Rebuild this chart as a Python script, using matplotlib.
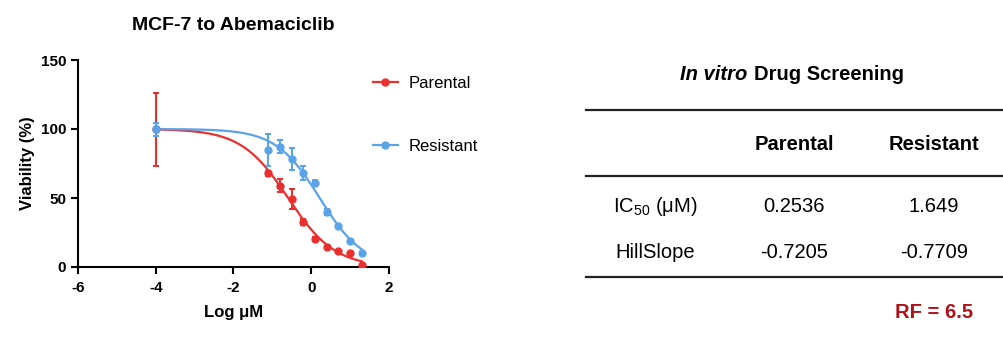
import numpy as np
import matplotlib
matplotlib.use('Agg')
import matplotlib.pyplot as plt
from matplotlib.lines import Line2D

plt.rcParams['font.family'] = ['Liberation Sans', 'DejaVu Sans']
plt.rcParams['mathtext.fontset'] = 'custom'
plt.rcParams['mathtext.rm'] = 'Liberation Sans'
plt.rcParams['axes.unicode_minus'] = False

# log10 dose (uM)
log_dose = [-4, -1.1, -0.8, -0.5, -0.2, 0.1, 0.4, 0.7, 1.0, 1.3]

parental_mean = [99.7, 67.8, 59.0, 49.1, 32.7, 20.5, 14.2, 11.6, 10.4, 1.2]
parental_sd = [26.5, 2.0, 4.6, 7.3, 2.0, 1.0, 1.0, 0.8, 0.8, 0.5]

resistant_mean = [99.7, 84.8, 87.2, 78.0, 68.0, 61.0, 40.0, 29.5, 18.9, 10.4]
resistant_sd = [4.8, 11.5, 4.5, 8.0, 5.0, 2.0, 2.0, 1.0, 1.0, 0.8]

# fitted parameters (table)
groups = ['Parental', 'Resistant']
ic50 = [0.2536, 1.649]
hill = [-0.7205, -0.7709]
row_labels = ['IC$_{50}$ (μM)', 'HillSlope']
rf = 6.5

red = '#e8312f'
blue = '#5ba3e8'
dark_red = '#b01217'


def hill_curve(x, logic50, slope, top=100.0, bottom=0.0):
    return bottom + (top - bottom) / (1 + 10 ** ((logic50 - x) * slope))


fig = plt.figure(figsize=(10.04, 3.38), dpi=100)
ax = fig.add_axes([78 / 1004, 1 - 267 / 338, 311 / 1004, 207 / 338])

x_fit = np.linspace(-4, 1.3, 300)
series = [(parental_mean, parental_sd, red), (resistant_mean, resistant_sd, blue)]
for i, (m, s, c) in enumerate(series):
    ax.plot(x_fit, hill_curve(x_fit, np.log10(ic50[i]), hill[i]), color=c, lw=1.6, zorder=2)
    ax.errorbar(log_dose, m, yerr=s, fmt='o', color=c, ms=5, elinewidth=1.5,
                capsize=2.5, capthick=1.5, zorder=3)

ax.set_xlim(-6, 2)
ax.set_ylim(0, 150)
ax.set_xticks([-6, -4, -2, 0, 2])
ax.set_yticks([0, 50, 100, 150])
ax.spines['top'].set_visible(False)
ax.spines['right'].set_visible(False)
for sp in ['left', 'bottom']:
    ax.spines[sp].set_linewidth(1.5)
ax.tick_params(direction='out', length=5, width=1.5, labelsize=11)
ax.tick_params(axis='x', pad=5)
for lab in ax.get_xticklabels() + ax.get_yticklabels():
    lab.set_fontweight('bold')
ax.set_xlabel('Log μM', fontsize=12, fontweight='bold', labelpad=7)
ax.set_ylabel('Viability (%)', fontsize=12, fontweight='bold', labelpad=4)
fig.text(233 / 1004, 1 - 25 / 338, 'MCF-7 to Abemaciclib', fontsize=14, fontweight='bold',
         ha='center', va='center')

handles = [Line2D([0], [0], color=red, marker='o', ms=5, lw=1.6),
           Line2D([0], [0], color=blue, marker='o', ms=5, lw=1.6)]
fig.legend(handles, groups, loc='upper left', bbox_to_anchor=(373 / 1004, 1 - 76 / 338),
           frameon=False, fontsize=12, labelspacing=2.9, handlelength=1.5,
           handletextpad=0.65, borderpad=0, borderaxespad=0)

# table panel drawn in pixel coordinates
tx = fig.add_axes([560 / 1004, 0, 444 / 1004, 1])
tx.set_xlim(560, 1004)
tx.set_ylim(338, 0)
tx.axis('off')

tx.text(680, 75, 'In vitro', fontsize=14.5, fontweight='bold', style='italic', ha='left', va='center')
tx.text(754, 75, 'Drug Screening', fontsize=14.5, fontweight='bold', ha='left', va='center')
for yl in [110, 176, 277]:
    tx.plot([586, 1002], [yl, yl], color='#222222', lw=1.6)

col_x = [794, 934]
label_x = 655
for j, g in enumerate(groups):
    tx.text(col_x[j], 145, g, fontsize=14.5, fontweight='bold', ha='center', va='center')
vals = [[f'{v}' for v in ic50], [f'{v}' for v in hill]]
for r, (lab, y) in enumerate(zip(row_labels, [206, 253])):
    tx.text(label_x, y, lab, fontsize=14.5, ha='center', va='center')
    for j in range(2):
        tx.text(col_x[j], y, vals[r][j], fontsize=14.5, ha='center', va='center')
tx.text(934, 312, f'RF = {rf}', fontsize=14.5, fontweight='bold', color=dark_red,
        ha='center', va='center')

fig.savefig('out.png', dpi=100)
